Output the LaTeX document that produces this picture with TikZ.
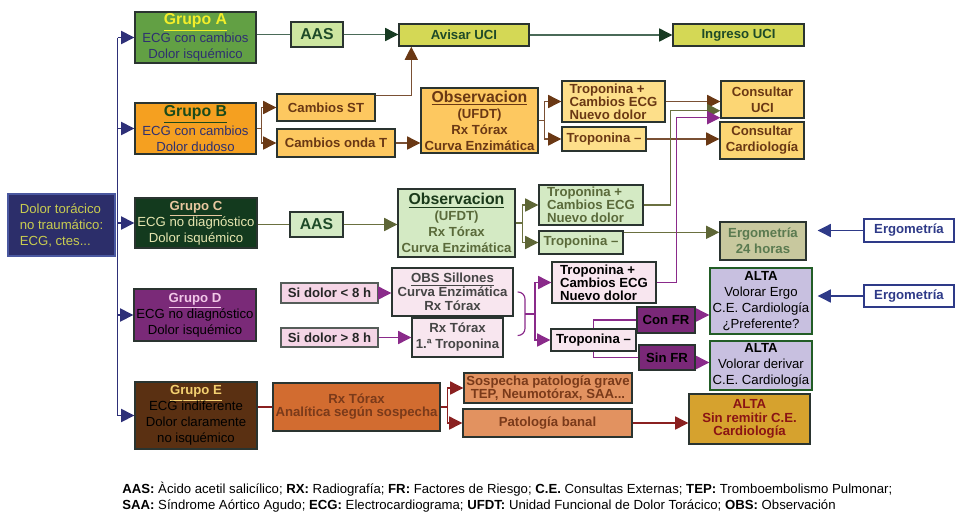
\documentclass[tikz,border=0pt]{standalone}
\usepackage{fontspec}
\setmainfont{Liberation Sans}
\usetikzlibrary{arrows.meta,calc}
\newcommand{\fsz}[2]{\fontsize{#1}{#2}\selectfont}
\definecolor{edge}{HTML}{2A3430}
\definecolor{navyfill}{HTML}{2C2E6A}
\definecolor{navyedge}{HTML}{4A58A0}
\definecolor{navyln}{HTML}{2E3078}
\definecolor{startTxt}{HTML}{C8CC50}
\definecolor{grpA}{HTML}{62A044}
\definecolor{grpAtl}{HTML}{F2EE2A}
\definecolor{grpTxt}{HTML}{2E3070}
\definecolor{grpB}{HTML}{F5A020}
\definecolor{grpBtl}{HTML}{1A4A1A}
\definecolor{grpC}{HTML}{133A1E}
\definecolor{grpCtl}{HTML}{E8C8A0}
\definecolor{grpCtx}{HTML}{E6E6B0}
\definecolor{grpD}{HTML}{7A2A78}
\definecolor{grpDtl}{HTML}{F2C8E8}
\definecolor{grpE}{HTML}{5A3012}
\definecolor{grpEtl}{HTML}{F4D070}
\definecolor{lnA}{HTML}{4A6A58}
\definecolor{hdA}{HTML}{173A22}
\definecolor{aasA}{HTML}{CDE6A0}
\definecolor{txA}{HTML}{1E4A28}
\definecolor{uci}{HTML}{D4D855}
\definecolor{lnB}{HTML}{7A5034}
\definecolor{hdB}{HTML}{6A3814}
\definecolor{orB}{HTML}{FDC860}
\definecolor{trB}{HTML}{FDDF8A}
\definecolor{conB}{HTML}{FCD674}
\definecolor{txB}{HTML}{6A3814}
\definecolor{lnC}{HTML}{6A7040}
\definecolor{hdC}{HTML}{5E6636}
\definecolor{grC}{HTML}{D4EAC4}
\definecolor{txC}{HTML}{5A6A3A}
\definecolor{txCt}{HTML}{1A3A1A}
\definecolor{erg}{HTML}{C8C89E}
\definecolor{txErg}{HTML}{5A7A50}
\definecolor{navyTx}{HTML}{2E3A88}
\definecolor{pkA}{HTML}{F5D5E6}
\definecolor{pkB}{HTML}{F8E6EF}
\definecolor{txD}{HTML}{454545}
\definecolor{lnD}{HTML}{8A2A8A}
\definecolor{fr}{HTML}{7A2878}
\definecolor{lav}{HTML}{C8C0E0}
\definecolor{rxE}{HTML}{D26C30}
\definecolor{txE}{HTML}{7A3A1A}
\definecolor{sosp}{HTML}{E29260}
\definecolor{altaE}{HTML}{D6A22E}
\definecolor{txAltaE}{HTML}{8A1414}
\definecolor{lnE}{HTML}{8A2020}

\begin{document}
\begin{tikzpicture}[x=0.02cm,y=-0.02cm,
  every node/.style={font=\fsz{7.5}{9.1}},
  wh/.style 2 args={minimum width=#1*0.02cm,minimum height=#2*0.02cm},
  box/.style={draw=edge,line width=0.8pt,inner sep=1pt,align=center},
  bbox/.style={box,font=\bfseries\fsz{7.5}{9.1}},
  tbox/.style={box,font=\bfseries\fsz{7.5}{7.4}},
  lnk/.style={line width=0.65pt},
  arh/.style={-{Triangle[length=7.5pt,width=7.5pt,color=#1]}}]
\useasboundingbox (0,0) rectangle (956,511);
% start and groups
\node[box,draw=navyedge,fill=navyfill,text=startTxt,align=left,wh={107}{62}] (start) at (61.5,225) {Dolor torácico\\no traumático:\\ECG, ctes...};
\node[box,fill=grpA,text=grpTxt,wh={121}{49}] (gA) at (195.5,37.5) {\textcolor{grpAtl}{\bfseries\fsz{9}{10}\underline{Grupo A}}\\ECG con cambios\\Dolor isquémico};
\node[box,fill=grpB,text=grpTxt,wh={121}{51}] (gB) at (195.5,128.5) {\textcolor{grpBtl}{\bfseries\fsz{9}{10}\underline{Grupo B}}\\ECG con cambios\\Dolor dudoso};
\node[box,fill=grpC,text=grpCtx,wh={122}{50}] (gC) at (196,223) {\textcolor{grpCtl}{\bfseries\underline{Grupo C}}\\ECG no diagnóstico\\Dolor isquémico};
\node[box,fill=grpD,text=black,wh={122}{52}] (gD) at (195,315) {\textcolor{grpDtl}{\bfseries\underline{Grupo D}}\\ECG no diagnóstico\\Dolor isquémico};
\node[box,fill=grpE,text=black,wh={122}{67}] (gE) at (196,415.5) {\textcolor{grpEtl}{\bfseries\underline{Grupo E}}\\ECG indiferente\\Dolor claramente\\no isquémico};
\coordinate (busx) at ($(start.east)+(2,0)$);
\draw[lnk,navyln,line width=0.85pt] (gA.west -| busx) -- (gE.west -| busx);
\foreach \g in {gA,gB,gC,gD,gE}
  \draw[navyln,line width=0.85pt,arh=navyln] (\g.west -| busx) -- (\g.west);
% grupo A
\node[bbox,fill=aasA,text=txA,font=\bfseries\fsz{9}{10},wh={52}{25}] (aasA) at (317,34.5) {AAS};
\node[bbox,fill=uci,text=txA,wh={130}{22}] (avisar) at (464,35) {Avisar UCI};
\node[bbox,fill=uci,text=txA,wh={131}{22}] (ingreso) at (738.5,35) {Ingreso UCI};
\draw[lnk,lnA] (aasA.west -| gA.east) -- (aasA.west);
\draw[lnk,lnA,arh=hdA] (aasA.east) -- (aasA.east -| avisar.west);
\draw[lnk,lnA,arh=hdA] (avisar.east) -- (avisar.east -| ingreso.west);
% grupo B
\node[bbox,fill=orB,text=txB,wh={98}{27}] (cST) at (326,107.5) {Cambios ST};
\node[bbox,fill=orB,text=txB,wh={118}{28}] (cT) at (336,143) {Cambios onda T};
\node[bbox,fill=orB,text=txB,wh={117}{65}] (obsB) at (479.5,120.5) {{\fsz{9}{10}\underline{Observacion}}\\(UFDT)\\Rx Tórax\\Curva Enzimática};
\node[tbox,fill=trB,text=txB,align=left,wh={103}{41}] (tpB) at (613.5,101.5) {Troponina +\\Cambios ECG\\Nuevo dolor};
\node[bbox,fill=trB,text=txB,wh={84}{24}] (tmB) at (604,139) {Troponina –};
\node[bbox,fill=conB,text=txB,wh={83}{37}] (conUCI) at (762.5,99.5) {Consultar\\UCI};
\node[bbox,fill=conB,text=txB,wh={84}{37}] (conCard) at (762,140.5) {Consultar\\Cardiología};
\draw[lnk,lnB,arh=hdB] (gB.east) -- ++(5,0) |- (cST.west);
\draw[lnk,lnB,arh=hdB] (gB.east) -- ++(5,0) |- (cT.west);
\draw[lnk,lnB,arh=hdB] ($(cST.north east)+(0,2)$) -| ($(avisar.south west)+(13,0)$);
\draw[lnk,lnB,arh=hdB] (cT.east) -- (cT.east -| obsB.west);
\draw[lnk,lnB,arh=hdB] (obsB.east) -- ++(6,0) |- (tpB.west);
\draw[lnk,lnB,arh=hdB] (obsB.east) -- ++(6,0) |- (tmB.west);
\draw[lnk,lnB,arh=hdB] (tpB.east) -- (tpB.east -| conUCI.west);
\draw[lnk,lnB,arh=hdB] (tmB.east) -- (tmB.east -| conCard.west);
% grupo C
\node[bbox,fill=grC,text=txA,font=\bfseries\fsz{9}{10},wh={53}{25}] (aasC) at (316.5,224.5) {AAS};
\node[bbox,fill=grC,text=txC,wh={117}{68}] (obsC) at (456.5,223) {\textcolor{txCt}{\fsz{9}{10}\underline{Observacion}}\\(UFDT)\\Rx Tórax\\Curva Enzimática};
\node[tbox,fill=grC,text=txC,align=left,wh={104}{40}] (tpC) at (591,205) {Troponina +\\Cambios ECG\\Nuevo dolor};
\node[bbox,fill=grC,text=txC,wh={84}{23}] (tmC) at (581,242.5) {Troponina –};
\node[bbox,fill=erg,text=txErg,wh={86}{38}] (ergo24) at (763,241) {Ergometría\\24 horas};
\node[bbox,draw=navyTx,fill=white,text=navyTx,wh={90}{23}] (ergR1) at (909,230.5) {Ergometría};
\draw[lnk,lnC] (aasC.west -| gC.east) -- (aasC.west);
\draw[lnk,lnC,arh=hdC] (aasC.east) -- (aasC.east -| obsC.west);
\draw[lnk,lnC,arh=hdC] (obsC.east) -- ++(7,0) |- (tpC.west);
\draw[lnk,lnC,arh=hdC] (obsC.east) -- ++(7,0) |- (tmC.west);
\draw[lnk,lnC,arh=hdC] (tpC.east) -| ($(conUCI.south west)+(-50,-8)$) -- ($(conUCI.south west)+(0,-8)$);
\draw[lnk,lnC,arh=hdC] ($(tmC.north east)+(0,2)$) -- ($(ergo24.north west)+(0,11)$);
\draw[lnk,navyTx,arh=navyTx,shorten >=0.22cm] (ergR1.west) -- (ergR1.west -| ergo24.east);
% grupo D
\node[bbox,draw=edge!80,fill=pkA,text=black!85,wh={97}{20}] (sl8) at (329.5,293) {Si dolor < 8 h};
\node[bbox,draw=edge!80,fill=pkA,text=black!85,wh={97}{19}] (sg8) at (329.5,337.5) {Si dolor > 8 h};
\node[box,fill=pkB,text=txD,font=\bfseries\fsz{7.5}{8},wh={121}{48}] (obsS) at (452.5,292) {\underline{OBS Sillones}\\Curva Enzimática\\Rx Tórax};
\node[bbox,fill=pkB,text=txD,wh={91}{39}] (rx1) at (457.5,337.5) {Rx Tórax\\1.ª Troponina};
\node[tbox,fill=pkB,text=black,align=left,wh={104}{41}] (tpD) at (604,282.5) {Troponina +\\Cambios ECG\\Nuevo dolor};
\node[bbox,fill=pkB,text=black,wh={85}{22}] (tmD) at (593.5,340) {Troponina –};
\node[bbox,fill=fr,text=black,wh={58}{26}] (conFR) at (666,320) {Con FR};
\node[bbox,fill=fr,text=black,wh={56}{25}] (sinFR) at (667,357.5) {Sin FR};
\node[box,draw=edge!80!green,fill=lav,text=black,wh={102}{66}] (alta1) at (761,301) {\textbf{ALTA}\\Volorar Ergo\\C.E. Cardiología\\¿Preferente?};
\node[box,draw=edge!80!green,fill=lav,text=black,wh={102}{49}] (alta2) at (761,365.5) {\textbf{ALTA}\\Volorar derivar\\C.E. Cardiología};
\node[bbox,draw=navyTx,fill=white,text=navyTx,wh={90}{22}] (ergR2) at (909,296) {Ergometría};
\draw[lnk,lnD,arh=lnD] (sl8.east) -- (sl8.east -| obsS.west);
\draw[lnk,lnD,arh=lnD] (sg8.east) -- (sg8.east -| rx1.west);
\coordinate (brk) at (525,314);
\draw[lnk,lnD,rounded corners=4pt] ($(obsS.east)+(4,0)$) -| (brk) |- ($(rx1.east)+(14,-2)$);
\draw[lnk,lnD,arh=lnD] (brk) -- ++(10,0) |- (tpD.west);
\draw[lnk,lnD,arh=lnD] (brk) -- ++(10,0) |- (tmD.west);
\draw[lnk,lnD,arh=lnD] (tpD.east) -| ($(conUCI.south west)+(-44,-1)$) -- ($(conUCI.south west)+(0,-1)$);
\draw[lnk,lnD] (tmD.north) |- (conFR.west);
\draw[lnk,lnD] (tmD.south) |- (sinFR.west);
\coordinate (cfr) at ($(conFR.east)+(0,-5)$);
\coordinate (sfr) at ($(sinFR.east)+(0,5)$);
\draw[lnk,lnD,arh=lnD] (cfr) -- (cfr -| alta1.west);
\draw[lnk,lnD,arh=lnD] (sfr) -- (sfr -| alta2.west);
\draw[lnk,navyTx,arh=navyTx,shorten >=0.1cm] (ergR2.west) -- (ergR2.west -| alta1.east);
% grupo E
\node[box,fill=rxE,text=txE,font=\bfseries\fsz{7.5}{7.4},wh={167}{48}] (rxE) at (356.5,407) {Rx Tórax\\Analítica según sospecha};
\node[box,fill=sosp,text=txE,font=\bfseries\fsz{7.5}{7.4},wh={168}{30}] (sosp) at (548,388) {Sospecha patología grave\\TEP, Neumotórax, SAA...};
\node[bbox,fill=sosp,text=txE,wh={169}{28}] (banal) at (547.5,423) {Patología banal};
\node[box,fill=altaE,text=txAltaE,font=\bfseries\fsz{7.5}{7.8},wh={121}{50}] (altaEn) at (749.5,419) {ALTA\\Sin remitir C.E.\\Cardiología};
\draw[lnk,lnE] (rxE.west -| gE.east) -- (rxE.west);
\draw[lnk,lnE,arh=lnE] (rxE.east) -- ++(7,0) |- (sosp.west);
\draw[lnk,lnE,arh=lnE] (rxE.east) -- ++(7,0) |- (banal.west);
\draw[lnk,lnE,arh=lnE] (banal.east) -- (banal.east -| altaEn.west);
% leyenda
\node[anchor=north west,align=left,inner sep=0pt,font=\fsz{7.5}{9.1}] (legend) at (122,482) {\textbf{AAS:} Àcido acetil salicílico; \textbf{RX:} Radiografía; \textbf{FR:} Factores de Riesgo; \textbf{C.E.} Consultas Externas; \textbf{TEP:} Tromboembolismo Pulmonar;\\\textbf{SAA:} Síndrome Aórtico Agudo; \textbf{ECG:} Electrocardiograma; \textbf{UFDT:} Unidad Funcional de Dolor Torácico; \textbf{OBS:} Observación};
\end{tikzpicture}
\end{document}
